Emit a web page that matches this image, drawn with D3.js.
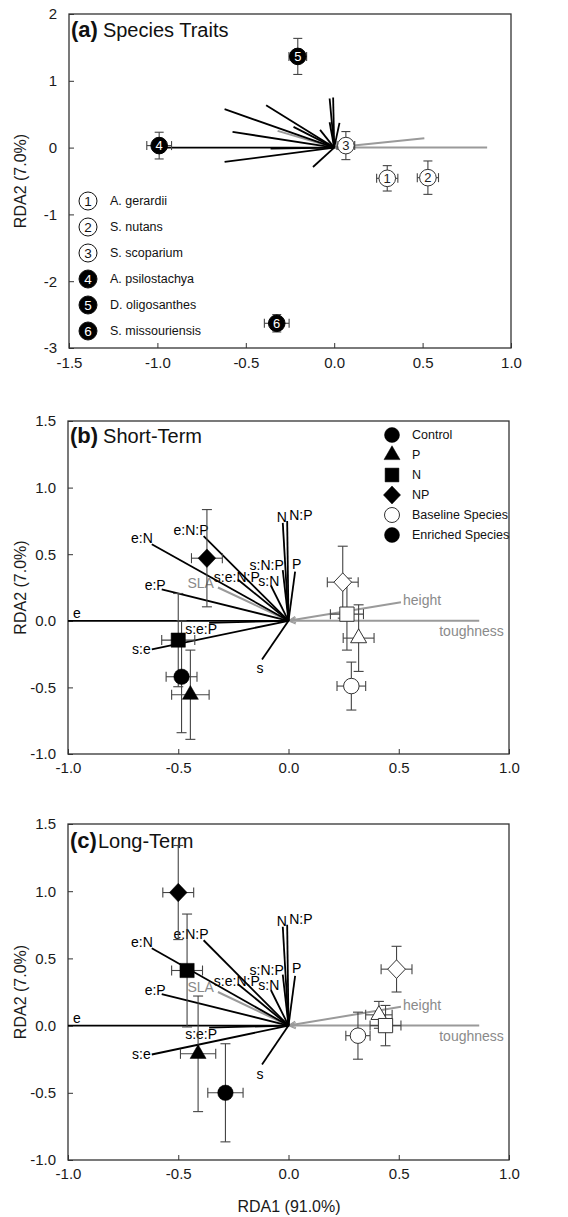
<!DOCTYPE html>
<html><head><meta charset="utf-8">
<script src="https://cdn.jsdelivr.net/npm/d3@7"></script>
<style>
body{margin:0;background:#fff}
svg{display:block}
text{font-family:"Liberation Sans",Arial,Helvetica,sans-serif}
</style>
</head><body>
<svg id="chart" width="568" height="1217"></svg>
<script>
// ---------------- DATA ----------------
const speciesNames = ["A. gerardii","S. nutans","S. scoparium","A. psilostachya","D. oligosanthes","S. missouriensis"];
const speciesEnriched = [false,false,false,true,true,true];
const speciesRDA1 = [0.30, 0.53, 0.066, -0.99, -0.206, -0.325];
const speciesRDA2 = [-0.46, -0.45, 0.03, 0.03, 1.365, -2.63];
const speciesErr1 = [0.06, 0.06, 0.05, 0.07, 0.05, 0.07];
const speciesErr2 = [0.19, 0.25, 0.21, 0.20, 0.27, 0.13];

const vectorNames = ["e","e:N","e:N:P","e:P","s:e:N:P","s:N","s:N:P","N","N:P","P","s:e:P","s:e","s"];
const vectorRDA1 = [-1.0, -0.62, -0.385, -0.575, -0.23, -0.08, -0.026, -0.026, -0.006, 0.03, -0.36, -0.62, -0.12];
const vectorRDA2 = [0.0, 0.575, 0.635, 0.235, 0.31, 0.265, 0.38, 0.735, 0.75, 0.37, -0.015, -0.215, -0.29];

const traitNames = ["SLA","height","toughness"];
const traitRDA1 = [-0.32, 0.51, 0.865];
const traitRDA2 = [0.25, 0.14, 0.0];

const treatments = ["Control","P","N","NP"];
const groupLabels = ["Baseline Species","Enriched Species"];

// Short-term (b)
const shortEnrichedRDA1 = [-0.485, -0.445, -0.50, -0.37];
const shortEnrichedRDA2 = [-0.42, -0.555, -0.145, 0.47];
const shortEnrichedErr1 = [0.07, 0.085, 0.075, 0.07];
const shortEnrichedErr2 = [0.42, 0.335, 0.35, 0.365];
const shortBaselineRDA1 = [0.285, 0.318, 0.265, 0.246];
const shortBaselineRDA2 = [-0.49, -0.13, 0.05, 0.29];
const shortBaselineErr1 = [0.065, 0.07, 0.075, 0.07];
const shortBaselineErr2 = [0.18, 0.25, 0.27, 0.27];

// Long-term (c)
const longEnrichedRDA1 = [-0.286, -0.41, -0.46, -0.50];
const longEnrichedRDA2 = [-0.50, -0.21, 0.41, 0.99];
const longEnrichedErr1 = [0.08, 0.08, 0.07, 0.07];
const longEnrichedErr2 = [0.365, 0.43, 0.42, 0.35];
const longBaselineRDA1 = [0.315, 0.41, 0.44, 0.49];
const longBaselineRDA2 = [-0.075, 0.08, 0.0, 0.42];
const longBaselineErr1 = [0.055, 0.06, 0.07, 0.07];
const longBaselineErr2 = [0.175, 0.10, 0.15, 0.17];

const xTicksA = [-1.5,-1.0,-0.5,0.0,0.5,1.0];
const yTicksA = [-3,-2,-1,0,1,2];
const xTicksBC = [-1.0,-0.5,0.0,0.5,1.0];
const yTicksBC = [-1.0,-0.5,0.0,0.5,1.0,1.5];

// ---------------- DRAWING ----------------
const svg = d3.select("#chart");
const INK = "#1a1a1a";
const FRAME = "#333";
const ERR = "#444";
const GRAY = "#9a9a9a";
const GRAYTXT = "#8a8a8a";

const defs = svg.append("defs");
defs.append("marker").attr("id","arr")
  .attr("viewBox","0 -5 10 10").attr("refX",9).attr("refY",0)
  .attr("markerUnits","userSpaceOnUse").attr("markerWidth",9).attr("markerHeight",9)
  .attr("orient","auto-start-reverse")
  .append("path").attr("d","M1,-3.5L9,0L1,3.5").attr("fill","none").attr("stroke",GRAY).attr("stroke-width",1.3);

function shapePath(type, s) {
  if (type === "Control") { return d3.symbol(d3.symbolCircle, Math.PI*s*s/4)(); }
  if (type === "P") { const h = s*Math.sqrt(3)/2; return `M0,${-2*h/3}L${s/2},${h/3}L${-s/2},${h/3}Z`; }
  if (type === "N") { const a = s/2*0.92; return `M${-a},${-a}H${a}V${a}H${-a}Z`; }
  if (type === "NP") { const a = s/2*1.2; return `M0,${-a}L${a*0.95},0L0,${a}L${-a*0.95},0Z`; }
}

function makePanel(cfg) {
  const g = svg.append("g");
  const x = d3.scaleLinear().domain(cfg.xDomain).range([cfg.left, cfg.right]);
  const y = d3.scaleLinear().domain(cfg.yDomain).range([cfg.bottom, cfg.top]);

  const xa = g.append("g").attr("transform",`translate(0,${cfg.bottom})`)
    .call(d3.axisBottom(x).tickValues(cfg.xTicks).tickFormat(cfg.xFmt).tickSize(-5).tickPadding(cfg.xPad));
  const ya = g.append("g").attr("transform",`translate(${cfg.left},0)`)
    .call(d3.axisLeft(y).tickValues(cfg.yTicks).tickFormat(cfg.yFmt).tickSize(-5).tickPadding(12));
  [xa, ya].forEach(a => {
    a.select(".domain").remove();
    a.selectAll(".tick line").attr("stroke",FRAME).attr("stroke-width",1);
    a.selectAll(".tick text").attr("fill",INK).style("font-size","15px")
      .style("font-family",'"Liberation Sans",Arial,sans-serif');
  });
  g.append("rect").attr("x",cfg.left).attr("y",cfg.top)
    .attr("width",cfg.right-cfg.left).attr("height",cfg.bottom-cfg.top)
    .attr("fill","none").attr("stroke",FRAME).attr("stroke-width",1.3);

  // y axis title
  g.append("text").attr("transform",`translate(20,${(cfg.top+cfg.bottom)/2}) rotate(-90)`)
    .attr("text-anchor","middle").attr("dy","0.35em").attr("fill",INK)
    .style("font-size","16px").text("RDA2 (7.0%)");

  // title
  const t = g.append("text").attr("x",cfg.titleX).attr("y",cfg.titleY).attr("fill","#111");
  t.append("tspan").style("font-weight","bold").style("font-size","22px").text(cfg.tag);
  t.append("tspan").attr("dx",cfg.titleGap).style("font-size","20px").text(cfg.title);

  return {g, x, y};
}

function drawVectors(p, withLabels) {
  const {g, x, y} = p;
  const vg = g.append("g");
  // trait (gray) vectors with arrow at origin
  traitNames.forEach((n,i) => {
    vg.append("line").attr("x1",x(0)).attr("y1",y(0)).attr("x2",x(traitRDA1[i])).attr("y2",y(traitRDA2[i]))
      .attr("stroke",GRAY).attr("stroke-width",2).attr("marker-start","url(#arr)");
  });
  vectorNames.forEach((n,i) => {
    vg.append("line").attr("x1",x(0)).attr("y1",y(0)).attr("x2",x(vectorRDA1[i])).attr("y2",y(vectorRDA2[i]))
      .attr("stroke","#000").attr("stroke-width",1.8);
  });
  if (!withLabels) return;
  // label placement offsets (pixels) relative to vector tips
  const off = {
    "e":[5,-3,"start"], "e:N":[1,-1.5,"end"], "e:N:P":[5,-1,"end"], "e:P":[4,1,"end"],
    "s:e:N:P":[-1,2,"middle"], "s:N":[-2,0,"middle"], "s:N:P":[1,0,"end"],
    "N":[-1,-1,"middle"], "N:P":[2,-1,"start"], "P":[-3,-3,"start"],
    "s:e:P":[-8,11,"middle"], "s:e":[-1,5,"end"], "s":[-2,14,"middle"],
    "SLA":[-4,0,"end"], "height":[2,3,"start"], "toughness":[-40,15,"start"]
  };
  const lab = (n, vx, vy, col) => {
    const o = off[n];
    g.append("text").attr("x",x(vx)+o[0]).attr("y",y(vy)+o[1]).attr("text-anchor",o[2])
      .attr("fill",col).style("font-size","14px").text(n);
  };
  traitNames.forEach((n,i) => lab(n, traitRDA1[i], traitRDA2[i], GRAYTXT));
  vectorNames.forEach((n,i) => lab(n, vectorRDA1[i], vectorRDA2[i], "#000"));
}

function errBar(g, cx, cy, x0, x1, y0, y1, cap) {
  const eg = g.append("g").attr("stroke",ERR).attr("stroke-width",1.1).attr("fill","none");
  eg.append("line").attr("x1",x0).attr("x2",x1).attr("y1",cy).attr("y2",cy);
  eg.append("line").attr("x1",cx).attr("x2",cx).attr("y1",y0).attr("y2",y1);
  eg.append("line").attr("x1",x0).attr("x2",x0).attr("y1",cy-cap).attr("y2",cy+cap);
  eg.append("line").attr("x1",x1).attr("x2",x1).attr("y1",cy-cap).attr("y2",cy+cap);
  eg.append("line").attr("x1",cx-cap).attr("x2",cx+cap).attr("y1",y0).attr("y2",y0);
  eg.append("line").attr("x1",cx-cap).attr("x2",cx+cap).attr("y1",y1).attr("y2",y1);
}

function drawTreatments(p, rx, ry, ex, ey, filled) {
  const {g, x, y} = p;
  treatments.forEach((t,i) => {
    errBar(g, x(rx[i]), y(ry[i]), x(rx[i]-ex[i]), x(rx[i]+ex[i]), y(ry[i]+ey[i]), y(ry[i]-ey[i]), 5);
  });
  treatments.forEach((t,i) => {
    const s = t === "Control" ? 15.5 : (t === "P" ? 16 : 15.5);
    g.append("path").attr("d",shapePath(t,s))
      .attr("transform",`translate(${x(rx[i])},${y(ry[i])})`)
      .attr("fill", filled ? "#000" : "#fff")
      .attr("stroke", filled ? "#000" : "#333").attr("stroke-width", filled ? 0.5 : 1);
  });
}

// ---------- Panel (a) ----------
const pa = makePanel({left:69,right:511,top:14,bottom:348,xDomain:[-1.5,1.0],yDomain:[-3,2],
  xTicks:xTicksA,yTicks:yTicksA,xFmt:d=>d.toFixed(1),yFmt:d=>String(d),xPad:9,
  titleX:71,titleY:37,tag:"(a)",title:"Species Traits",titleGap:5});
drawVectors(pa, false);
speciesNames.forEach((n,i) => {
  const cx = pa.x(speciesRDA1[i]), cy = pa.y(speciesRDA2[i]);
  errBar(pa.g, cx, cy, pa.x(speciesRDA1[i]-speciesErr1[i]), pa.x(speciesRDA1[i]+speciesErr1[i]),
    pa.y(speciesRDA2[i]+speciesErr2[i]), pa.y(speciesRDA2[i]-speciesErr2[i]), 4.5);
});
speciesNames.forEach((n,i) => {
  const cx = pa.x(speciesRDA1[i]), cy = pa.y(speciesRDA2[i]);
  pa.g.append("circle").attr("cx",cx).attr("cy",cy).attr("r",8.3)
    .attr("fill",speciesEnriched[i]?"#000":"#fff").attr("stroke",speciesEnriched[i]?"#000":"#333").attr("stroke-width",1);
  pa.g.append("text").attr("x",cx).attr("y",cy).attr("dy","0.36em").attr("text-anchor","middle")
    .attr("fill",speciesEnriched[i]?"#fff":"#222").style("font-size","13px").text(i+1);
});
// legend (a)
speciesNames.forEach((n,i) => {
  const ly = 201 + i*26;
  pa.g.append("circle").attr("cx",88).attr("cy",ly).attr("r",9)
    .attr("fill",speciesEnriched[i]?"#000":"#fff").attr("stroke","#111").attr("stroke-width",1);
  pa.g.append("text").attr("x",88).attr("y",ly).attr("dy","0.36em").attr("text-anchor","middle")
    .attr("fill",speciesEnriched[i]?"#fff":"#111").style("font-size","13.5px").text(i+1);
  pa.g.append("text").attr("x",110).attr("y",ly).attr("dy","0.35em").attr("fill","#111")
    .style("font-size","12.5px").text(n);
});

// ---------- Panel (b) ----------
const pb = makePanel({left:68,right:509,top:421,bottom:754,xDomain:[-1,1],yDomain:[-1,1.5],
  xTicks:xTicksBC,yTicks:yTicksBC,xFmt:d=>d.toFixed(1),yFmt:d=>d.toFixed(1),xPad:8,
  titleX:70,titleY:443,tag:"(b)",title:"Short-Term",titleGap:5});
drawVectors(pb, true);
drawTreatments(pb, shortBaselineRDA1, shortBaselineRDA2, shortBaselineErr1, shortBaselineErr2, false);
drawTreatments(pb, shortEnrichedRDA1, shortEnrichedRDA2, shortEnrichedErr1, shortEnrichedErr2, true);

// legend (b)
const legItems = treatments.map(t => ({shape:t, filled:true, label:t}))
  .concat([{shape:"Control", filled:false, label:groupLabels[0]}, {shape:"Control", filled:true, label:groupLabels[1]}]);
legItems.forEach((it,i) => {
  const ly = 435 + i*20;
  pb.g.append("path").attr("d",shapePath(it.shape, it.shape==="P"?16:15))
    .attr("transform",`translate(392,${ly})`)
    .attr("fill",it.filled?"#000":"#fff").attr("stroke",it.filled?"#000":"#333").attr("stroke-width",it.filled?0.5:1);
  pb.g.append("text").attr("x",412).attr("y",ly).attr("dy","0.35em").attr("fill","#111")
    .style("font-size","12.5px").text(it.label);
});

// ---------- Panel (c) ----------
const pc = makePanel({left:68,right:509,top:824,bottom:1160,xDomain:[-1,1],yDomain:[-1,1.5],
  xTicks:xTicksBC,yTicks:yTicksBC,xFmt:d=>d.toFixed(1),yFmt:d=>d.toFixed(1),xPad:8,
  titleX:70,titleY:848,tag:"(c)",title:"Long-Term",titleGap:1});
drawVectors(pc, true);
drawTreatments(pc, longBaselineRDA1, longBaselineRDA2, longBaselineErr1, longBaselineErr2, false);
drawTreatments(pc, longEnrichedRDA1, longEnrichedRDA2, longEnrichedErr1, longEnrichedErr2, true);

// x-axis title
svg.append("text").attr("x",289).attr("y",1212).attr("text-anchor","middle").attr("fill",INK)
  .style("font-size","16px").text("RDA1 (91.0%)");
</script>
</body></html>
